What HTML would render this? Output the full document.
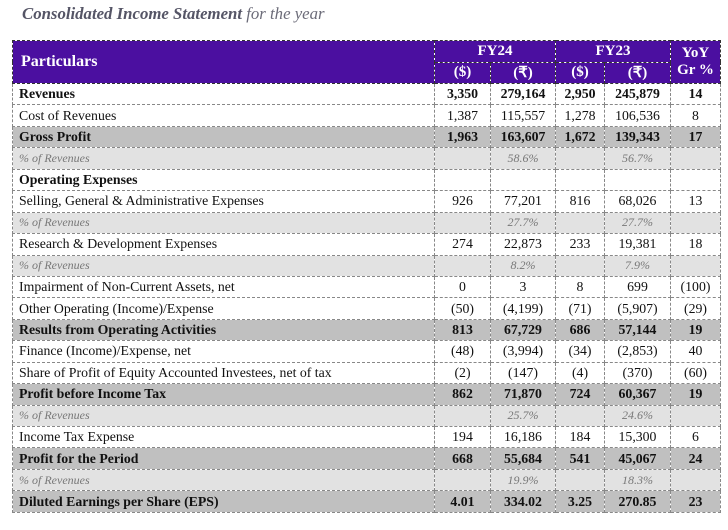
<!DOCTYPE html>
<html><head><meta charset="utf-8"><style>
body{margin:0;width:728px;height:530px;background:#fff;font-family:"Liberation Serif",serif;}
.title{position:absolute;left:22px;top:4px;font-size:16.8px;font-style:italic;color:#6b6b78;}
.title b{color:#555566;}
table{position:absolute;left:12px;top:40px;border-collapse:collapse;table-layout:fixed;width:708px;font-size:13.8px;color:#111;}
td,th{border:1px dashed #888;padding:0 6px;height:20.45px;white-space:nowrap;overflow:hidden;}
th{background:#4b0fa0;color:#fff;font-weight:bold;font-size:15px;height:20.5px;border-color:#333;text-align:center;}
td.n{text-align:center;}
tr.b td{font-weight:bold;}
tr.g td{background:#c0c0c0;}
tr.p td{background:#e2e2e2;font-style:italic;color:#777;font-size:12px;}
</style></head><body>
<div class="title"><b>Consolidated Income Statement</b> for the year</div>
<table>
<colgroup><col style="width:422px"><col style="width:56px"><col style="width:65px"><col style="width:49px"><col style="width:66px"><col style="width:50px"></colgroup>
<tr><th rowspan="2" style="text-align:left;font-size:16px;padding-left:8px">Particulars</th><th colspan="2">FY24</th><th colspan="2">FY23</th><th rowspan="2">YoY<br>Gr %</th></tr>
<tr><th>($)</th><th>(₹)</th><th>($)</th><th>(₹)</th></tr>
<tr class="b"><td>Revenues</td><td class="n">3,350</td><td class="n">279,164</td><td class="n">2,950</td><td class="n">245,879</td><td class="n">14</td></tr>
<tr><td>Cost of Revenues</td><td class="n">1,387</td><td class="n">115,557</td><td class="n">1,278</td><td class="n">106,536</td><td class="n">8</td></tr>
<tr class="b g"><td>Gross Profit</td><td class="n">1,963</td><td class="n">163,607</td><td class="n">1,672</td><td class="n">139,343</td><td class="n">17</td></tr>
<tr class="p"><td>% of Revenues</td><td></td><td class="n">58.6%</td><td></td><td class="n">56.7%</td><td></td></tr>
<tr class="b"><td>Operating Expenses</td><td></td><td></td><td></td><td></td><td></td></tr>
<tr><td>Selling, General &amp; Administrative Expenses</td><td class="n">926</td><td class="n">77,201</td><td class="n">816</td><td class="n">68,026</td><td class="n">13</td></tr>
<tr class="p"><td>% of Revenues</td><td></td><td class="n">27.7%</td><td></td><td class="n">27.7%</td><td></td></tr>
<tr><td>Research &amp; Development Expenses</td><td class="n">274</td><td class="n">22,873</td><td class="n">233</td><td class="n">19,381</td><td class="n">18</td></tr>
<tr class="p"><td>% of Revenues</td><td></td><td class="n">8.2%</td><td></td><td class="n">7.9%</td><td></td></tr>
<tr><td>Impairment of Non-Current Assets, net</td><td class="n">0</td><td class="n">3</td><td class="n">8</td><td class="n">699</td><td class="n">(100)</td></tr>
<tr><td>Other Operating (Income)/Expense</td><td class="n">(50)</td><td class="n">(4,199)</td><td class="n">(71)</td><td class="n">(5,907)</td><td class="n">(29)</td></tr>
<tr class="b g"><td>Results from Operating Activities</td><td class="n">813</td><td class="n">67,729</td><td class="n">686</td><td class="n">57,144</td><td class="n">19</td></tr>
<tr><td>Finance (Income)/Expense, net</td><td class="n">(48)</td><td class="n">(3,994)</td><td class="n">(34)</td><td class="n">(2,853)</td><td class="n">40</td></tr>
<tr><td>Share of Profit of Equity Accounted Investees, net of tax</td><td class="n">(2)</td><td class="n">(147)</td><td class="n">(4)</td><td class="n">(370)</td><td class="n">(60)</td></tr>
<tr class="b g"><td>Profit before Income Tax</td><td class="n">862</td><td class="n">71,870</td><td class="n">724</td><td class="n">60,367</td><td class="n">19</td></tr>
<tr class="p"><td>% of Revenues</td><td></td><td class="n">25.7%</td><td></td><td class="n">24.6%</td><td></td></tr>
<tr><td>Income Tax Expense</td><td class="n">194</td><td class="n">16,186</td><td class="n">184</td><td class="n">15,300</td><td class="n">6</td></tr>
<tr class="b g"><td>Profit for the Period</td><td class="n">668</td><td class="n">55,684</td><td class="n">541</td><td class="n">45,067</td><td class="n">24</td></tr>
<tr class="p"><td>% of Revenues</td><td></td><td class="n">19.9%</td><td></td><td class="n">18.3%</td><td></td></tr>
<tr class="b g"><td>Diluted Earnings per Share (EPS)</td><td class="n">4.01</td><td class="n">334.02</td><td class="n">3.25</td><td class="n">270.85</td><td class="n">23</td></tr>
</table>
</body></html>
